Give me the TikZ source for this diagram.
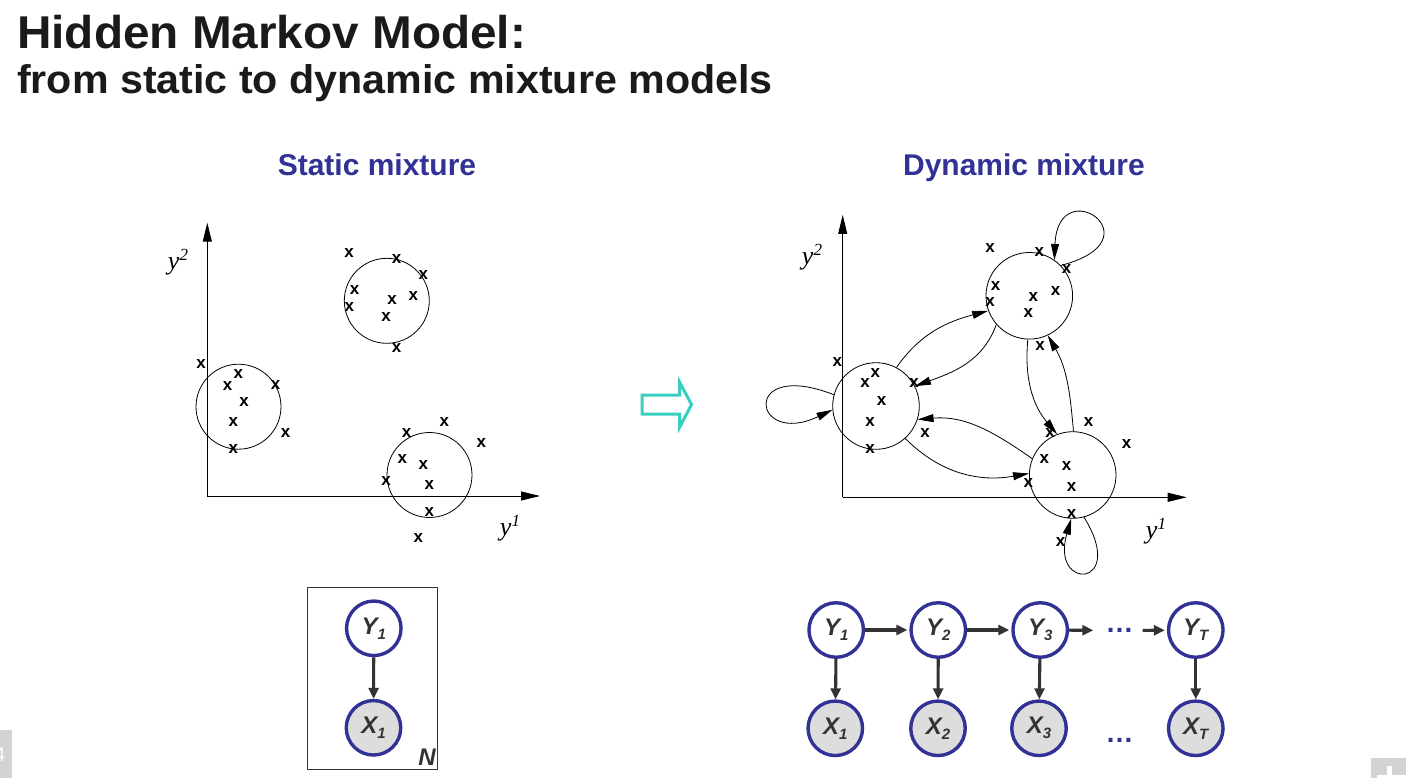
\documentclass[tikz,border=0pt]{standalone}
\usepackage{fontspec}
\setmainfont{Liberation Sans}
\newfontfamily\serifface{Liberation Serif}
\usetikzlibrary{arrows.meta}
\definecolor{hblue}{RGB}{50,50,150}
\definecolor{hgray}{RGB}{51,51,51}
\definecolor{hteal}{RGB}{56,206,192}
\definecolor{obsfill}{RGB}{221,221,221}
\definecolor{titlecol}{RGB}{26,26,26}
\definecolor{cornergray}{RGB}{211,211,211}
\begin{document}
\begin{tikzpicture}[x=1pt,y=-1pt,
  axis/.style={line width=0.9pt,-{Triangle[length=19pt,width=9pt]}},
  clus/.style={circle,draw,line width=0.8pt,inner sep=0pt,minimum size=85pt},
  trans/.style={line width=0.8pt,-{Triangle[length=16pt,width=8pt]}},
  xm/.style={font=\fontsize{17}{17}\selectfont\bfseries,inner sep=0pt},
  axlab/.style={font=\fontsize{26}{26}\selectfont\serifface\itshape,inner sep=0pt},
  gnode/.style={circle,draw=hblue,line width=3.4pt,minimum size=54.5pt,inner sep=0pt,fill=white,
    text=hgray,font=\fontsize{24}{24}\selectfont\bfseries\itshape},
  obs/.style={gnode,fill=obsfill},
  garr/.style={draw=hgray,line width=3.1pt,-{Triangle[length=11pt,width=10pt]}},
  dotsn/.style={text=hblue,font=\fontsize{28}{28}\selectfont\bfseries,inner sep=9pt},
  heading/.style={text=hblue,font=\fontsize{30}{30}\selectfont\bfseries,inner sep=0pt,anchor=base}
]
\useasboundingbox (0,0) rectangle (1406,778);
\fill[white] (0,0) rectangle (1406,778);

% titles
\node[anchor=base west,inner sep=0pt,text=titlecol,font=\fontsize{46}{46}\selectfont\bfseries] (title) at (17,48.3) {\scalebox{1.037}[1]{Hidden Markov Model:}};
\node[anchor=base west,inner sep=0pt,text=titlecol,font=\fontsize{40}{40}\selectfont\bfseries] (subtitle) at (17,93.3) {\scalebox{1.03}[1]{from static to dynamic mixture models}};
\node[heading] (hstatic) at (377,176) {Static mixture};
\node[heading] (hdynamic) at (1024,176) {Dynamic mixture};

% ---------- static mixture plot ----------
\coordinate (o1) at (207.3,496);
\coordinate (o1y) at (207.3,222.7);
\coordinate (o1x) at (540,496);
\draw[axis] (o1) -- (o1y);
\draw[axis] (o1) -- (o1x);
\node[axlab] (s-y2) at (178,262) {y\raisebox{9pt}{\fontsize{17}{17}\selectfont 2}};
\node[axlab] (s-y1) at (510,528) {y\raisebox{9pt}{\fontsize{17}{17}\selectfont 1}};

\node[clus] (sA) at (386.8,300.8) {};
\node[clus] (sB) at (238.5,406.7) {};
\node[clus] (sC) at (429.5,475) {};

\foreach \px/\py [count=\i] in {349/252.7,396.7/259,423.3/275,354.7/290,349.3/306.7,392/300,413.3/295.7,386/317.3,396.7/347.7,
  201/364.3,238.3/374.3,227.7/385.7,275.7/385,244/401.7,233.3/422,285.7/432.7,233.3/449.3,
  444.3/422,406.7/432.7,481.3/443.3,402.3/459.3,423.3/465,386/480.7,429.3/485.3,429.3/512.3,418.3/538.3}
  \node[xm] (sx\i) at (\px,\py) {x};

% ---------- teal block arrow ----------
\draw[hteal,line width=3pt,line join=miter] (642,395) -- (679.5,395) -- (679.5,382) -- (691.5,404.5) -- (679.5,427.5) -- (679.5,414) -- (642,414) -- cycle;

% ---------- dynamic mixture plot ----------
\coordinate (o2) at (842.7,497.3);
\coordinate (o2y) at (842.7,215);
\coordinate (o2x) at (1186.7,497.3);
\draw[axis] (o2) -- (o2y);
\draw[axis] (o2) -- (o2x);
\node[axlab] (d-y2) at (812,257) {y\raisebox{9pt}{\fontsize{17}{17}\selectfont 2}};
\node[axlab] (d-y1) at (1156,531) {y\raisebox{9pt}{\fontsize{17}{17}\selectfont 1}};

\node[clus,minimum size=86.6pt] (dT) at (1029.3,295.8) {};
\node[clus,minimum size=86.6pt] (dL) at (876,406) {};
\node[clus,minimum size=86.6pt] (dB) at (1072.7,475) {};

\foreach \px/\py [count=\i] in {990/247.7,1039.3/252.3,1066.7/269.3,995.7/286,990/301.7,1033.3/296.7,1055.7/290.7,1028.3/312.7,1040/345.7,
  837.3/361.7,875.3/372.7,865/383.3,914/383.3,881.7/400.7,870/421.7,925/432.7,870/449.3,
  1088.7/421.7,1050/433.3,1126.7/444,1044.3/459.3,1066.7/466,1028.3/482.7,1071.7/486.7,1071.7/514,1060.7/541.7}
  \node[xm] (dx\i) at (\px,\py) {x};

% transitions
\draw[trans] (dL.62) to[out=55,in=195] (dT.200);
\draw[trans] (dT.221) to[out=250,in=20] (dL.27);
\draw[trans] (dB.158) to[out=145,in=5] (dL.342);
\draw[trans] (dL.312) to[out=-45,in=190] (dB.178);
\draw[trans] (dT.268) to[out=265,in=130] (dB.111);
\draw[trans] (dB.89) to[out=95,in=-60] (dT.295);
% self loops
\draw[trans] (dT.44) .. controls (1160,240) and (1058,170) .. (dT.55);
\draw[trans] (dL.165) .. controls (740,358) and (752,448) .. (dL.185);
\draw[trans] (dB.-75) .. controls (1128,588) and (1050,592) .. (dB.-92);

% ---------- static graphical model ----------
\draw[hgray,line width=1.3pt] (307.3,587.3) rectangle (437.7,769.3);
\node[inner sep=0pt,text=hgray,font=\fontsize{24}{24}\selectfont\bfseries\itshape] (plateN) at (427,757) {N};
\node[gnode] (sY1) at (373.8,628.3) {Y\raisebox{-5pt}{\fontsize{15}{15}\selectfont 1}};
\node[obs] (sX1) at (373.5,727.8) {X\raisebox{-5pt}{\fontsize{15}{15}\selectfont 1}};
\draw[garr] (sY1) -- (sX1);

% ---------- dynamic graphical model ----------
\node[gnode] (Y1) at (836.2,630) {Y\raisebox{-5pt}{\fontsize{15}{15}\selectfont 1}};
\node[gnode] (Y2) at (938.3,630) {Y\raisebox{-5pt}{\fontsize{15}{15}\selectfont 2}};
\node[gnode] (Y3) at (1040.2,630) {Y\raisebox{-5pt}{\fontsize{15}{15}\selectfont 3}};
\node[gnode] (YT) at (1195.8,630) {Y\raisebox{-5pt}{\fontsize{15}{15}\selectfont T}};
\node[obs] (X1) at (835.3,728.3) {X\raisebox{-5pt}{\fontsize{15}{15}\selectfont 1}};
\node[obs] (X2) at (938,728.3) {X\raisebox{-5pt}{\fontsize{15}{15}\selectfont 2}};
\node[obs] (X3) at (1039,728.3) {X\raisebox{-5pt}{\fontsize{15}{15}\selectfont 3}};
\node[obs] (XT) at (1195.8,728.3) {X\raisebox{-5pt}{\fontsize{15}{15}\selectfont T}};
\node[dotsn] (dotsY) at (1119.5,630.5) {…};
\node[dotsn] (dotsX) at (1119.5,740.7) {…};
\draw[garr,shorten >=2pt] (Y1) -- (Y2);
\draw[garr,shorten >=2pt] (Y2) -- (Y3);
\draw[garr,shorten >=3pt] (Y3) -- (dotsY);
\draw[garr,shorten >=2pt] (dotsY) -- (YT);
\draw[garr] (Y1) -- (X1);
\draw[garr] (Y2) -- (X2);
\draw[garr] (Y3) -- (X3);
\draw[garr] (YT) -- (XT);

% ---------- slide corner fragments ----------
\begin{scope}
\clip (0,730) rectangle (12,778);
\fill[cornergray] (0,730) rectangle (12,778);
\node[anchor=east,inner sep=0pt,text=white,font=\fontsize{20}{20}\selectfont] (pagenum) at (5.5,755) {4};
\end{scope}
\fill[cornergray] (1371,757.7) rectangle (1406,778);
\fill[white] (1386.7,766) rectangle (1392,778);
\fill[white] (1377.3,774.5) rectangle (1406,778);
\end{tikzpicture}
\end{document}
